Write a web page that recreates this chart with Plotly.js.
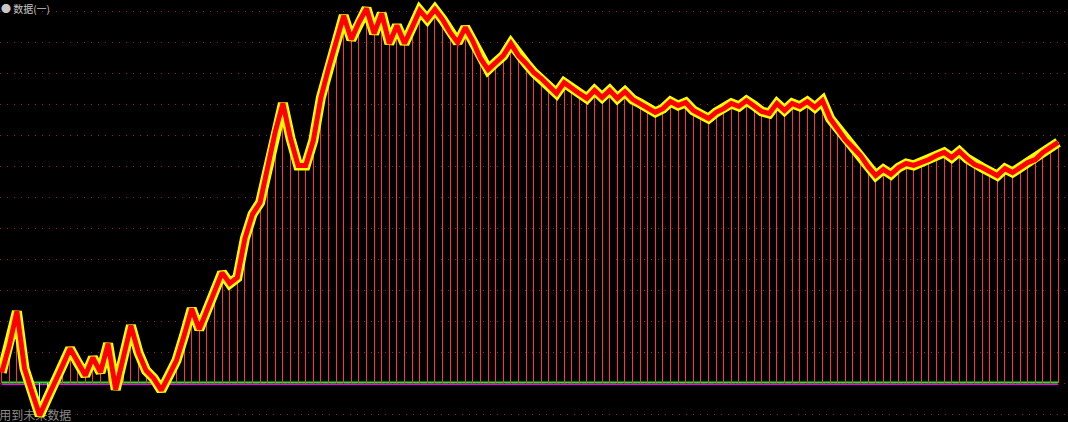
<!DOCTYPE html>
<html>
<head>
<meta charset="utf-8">
<script src="https://cdn.plot.ly/plotly-3.0.1.min.js"></script>
<style>
html,body{margin:0;padding:0;background:#000;overflow:hidden;}
#chart{width:1068px;height:422px;}
</style>
</head>
<body>
<div id="chart"></div>
<script>
// Series values (one per bar)
const values = [
  3.4, 12.1, 23.1, 4.7, -3.1, -10.5, -5.0, 0.8, 5.6, 11.1,
  6.6, 2.4, 8.2, 3.4, 12.7, -2.1, 8.2, 18.5, 9.8, 4.0,
  1.5, -2.4, 2.4, 7.3, 15.3, 24.0, 17.3, 23.7, 30.2, 35.6,
  32.1, 34.0, 46.6, 54.4, 58.2, 69.8, 81.1, 90.2, 78.9, 70.2,
  70.2, 78.2, 92.1, 101.5, 110.5, 118.5, 110.8, 116.3, 120.8, 112.7,
  119.2, 109.5, 115.3, 109.5, 114.7, 120.2, 117.3, 120.5, 117.3, 113.1,
  109.8, 114.7, 110.2, 104.7, 101.1, 103.4, 105.6, 109.5, 105.6, 103.1,
  100.2, 98.2, 96.0, 93.4, 96.9, 95.0, 93.4, 91.8, 94.4, 92.1,
  94.4, 91.8, 94.0, 91.5, 90.2, 88.9, 87.3, 88.5, 90.8, 89.5,
  90.5, 87.9, 86.6, 85.3, 87.3, 88.5, 90.2, 89.2, 91.1, 89.5,
  87.6, 86.9, 90.2, 87.9, 90.2, 89.2, 90.8, 88.9, 91.1, 85.3,
  82.1, 78.5, 76.0, 73.4, 69.8, 66.9, 68.9, 67.3, 69.5, 70.8,
  70.2, 71.1, 72.1, 73.4, 74.4, 72.7, 74.7, 72.4, 70.5, 69.5,
  68.2, 66.9, 69.2, 67.9, 69.5, 71.1, 72.1, 74.4, 76.0, 77.6
];
const periods = values.map((v, i) => i);
const topLabel = "● 数据(一)";
const bottomLabel = "用到未来数据";

const barColors = values.map(v => v < 0 ? '#7fffff' : '#ff3636');

const traces = [
  {
    type: 'bar', x: periods, y: values, width: 0.14,
    marker: {color: barColors, line: {width: 0}},
    hoverinfo: 'skip', showlegend: false
  },
  {
    type: 'scatter', mode: 'text', x: [4.4], y: [-10.9],
    text: [bottomLabel], textposition: 'middle center',
    textfont: {family: 'Noto Sans CJK SC', size: 12, color: '#8a8a8a'},
    hoverinfo: 'skip', showlegend: false, cliponaxis: false
  },
  {
    type: 'scatter', mode: 'lines', x: periods, y: values,
    line: {color: '#ffff00', width: 10, shape: 'linear'},
    hoverinfo: 'skip', showlegend: false
  },
  {
    type: 'scatter', mode: 'lines', x: periods, y: values,
    line: {color: '#ff0000', width: 5, shape: 'linear'},
    hoverinfo: 'skip', showlegend: false
  }
];

const layout = {
  width: 1068, height: 422,
  margin: {l: 0, r: 0, t: 0, b: 0, pad: 0},
  paper_bgcolor: '#000', plot_bgcolor: '#000',
  bargap: 0,
  xaxis: {
    range: [-0.2237, 140.30], showgrid: false, zeroline: false,
    showticklabels: false, ticks: '', showline: false, fixedrange: true
  },
  yaxis: {
    range: [-12.58, 123.55], tick0: 0, dtick: 10,
    showgrid: true, gridcolor: '#a01818', gridwidth: 1, griddash: '1px,6px',
    zeroline: false, showticklabels: false, ticks: '', showline: false, fixedrange: true
  },
  shapes: [
    {type: 'line', xref: 'x', yref: 'y', x0: 0, x1: 139, y0: 0.2, y1: 0.2,
     line: {color: '#00ff00', width: 2}, layer: 'below'},
    {type: 'line', xref: 'x', yref: 'y', x0: 0, x1: 139, y0: -0.42, y1: -0.42,
     line: {color: '#ff00ff', width: 1.5}, layer: 'below'}
  ],
  annotations: [
    {xref: 'paper', yref: 'paper', x: 0, y: 1, xanchor: 'left', yanchor: 'top',
     text: topLabel, showarrow: false, borderpad: 0,
     font: {family: 'Noto Sans CJK SC', size: 10, color: '#c8c8c8'}}
  ]
};

Plotly.newPlot('chart', traces, layout, {staticPlot: true, displayModeBar: false});
</script>
</body>
</html>
